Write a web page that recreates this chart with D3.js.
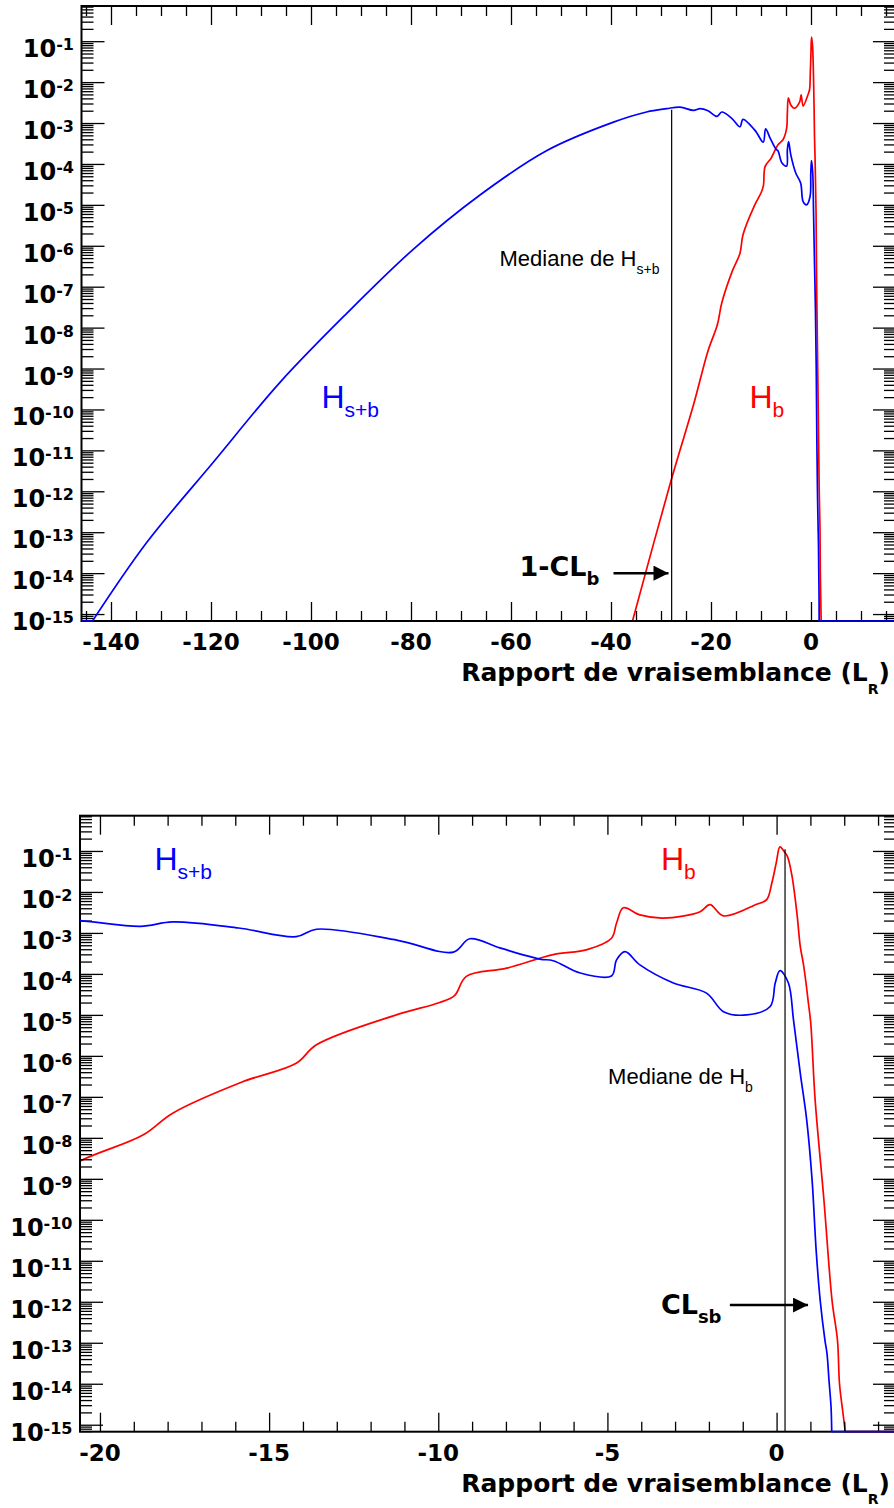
<!DOCTYPE html>
<html><head><meta charset="utf-8">
<script src="https://cdn.jsdelivr.net/npm/d3@7"></script>
<style>
html,body{margin:0;padding:0;background:#fff;}
svg{display:block;}
text{font-family:"Liberation Sans", Arial, Helvetica, sans-serif;}
text.bold{font-family:"DejaVu Sans", "Liberation Sans", Arial, sans-serif;font-weight:bold;}
</style></head><body>
<svg id="chart" width="894" height="1508"></svg>
<script>
// ---------------- DATA ----------------
// H_{s+b} (blue): likelihood-ratio value and probability (0 = below the plotted range)
const hsbX = [-146, -143.7, -132.9, -119.5, -106.2, -92.9, -79.5, -66.2, -52.9, -39.5, -32.9, -28.9, -26.2, -23.5, -22.2,
  -20.6, -18.8, -17.85, -15.9, -14.2, -13.6, -11.2, -9.55, -9.07, -8.18, -7.0, -6.6, -5.8, -4.88, -4.73, -4.48, -4.04,
  -3.05, -2.07, -1.57, -0.88, -0.19, -0.04, 0.10, 0.35, 0.50, 0.70, 0.89, 1.05, 1.17, 1.29, 1.43, 1.49, 1.55, 1.61, 1.63, 17];
const hsbY = [0, 0, 5.5e-14, 5.2e-12, 4.6e-10, 2.2e-8, 8.3e-7, 1.74e-5, 2.1e-4, 1.05e-3, 1.86e-3, 2.24e-3, 2.45e-3, 2.04e-3, 2.24e-3,
  2.0e-3, 1.45e-3, 1.86e-3, 1.32e-3, 8.1e-4, 1.23e-3, 6.6e-4, 3.4e-4, 7.2e-4, 4.3e-4, 2.3e-4, 2.1e-4, 1.05e-4, 8.9e-5, 2.2e-4, 3.5e-4, 1.66e-4,
  6.0e-5, 3.4e-5, 1.2e-5, 1.0e-5, 1.6e-5, 6.0e-5, 1.2e-4, 6.0e-5, 7.6e-6, 3.8e-7, 2.75e-8, 9.3e-10, 1.8e-11, 1.07e-12, 1.15e-13, 5.5e-14, 1.2e-14, 2.7e-15, 0, 0];

// H_b (red)
const hbX = [-146, -35.7, -27.9, -23.5, -20.6, -18.73, -17.85, -15.8, -14.2, -13.6, -11.24, -9.96, -9.52, -9.17, -7.98, -6.6, -5.6,
  -4.88, -4.73, -4.53, -4.04, -3.35, -2.26, -1.97, -1.57, -0.59, -0.29, -0.14, -0.01, 0.10, 0.22, 0.32, 0.45, 0.60, 0.70, 0.79,
  0.87, 0.94, 1.01, 1.14, 1.40, 1.64, 1.80, 1.86, 1.96, 2.03, 17];
const hbY = [0, 0, 2.0e-12, 1.3e-10, 2.7e-9, 1.17e-8, 4.0e-8, 2.3e-7, 6.6e-7, 1.86e-6, 1.0e-5, 2.0e-5, 2.95e-5, 8.7e-5, 1.38e-4, 2.95e-4, 3.9e-4,
  7.4e-4, 1.74e-3, 4.1e-3, 2.75e-3, 2.3e-3, 3.3e-3, 4.9e-3, 2.6e-3, 5.0e-3, 6.5e-3, 1.66e-2, 5.1e-2, 0.126, 9.8e-2, 7.4e-2, 2.6e-2, 3.1e-3, 4.7e-4, 1.8e-4,
  6.0e-5, 1.95e-5, 6.3e-6, 8.3e-8, 3.0e-10, 1.07e-12, 1.15e-13, 1.0e-14, 2.0e-15, 0, 0];

// medians
const medianSB = [-27.87, 2.1e-3];   // median of H_{s+b}: x, height of the line
const medianB = [0.25, 0.11];        // median of H_b

// axis ticks
const yTickExponents = [-1, -2, -3, -4, -5, -6, -7, -8, -9, -10, -11, -12, -13, -14, -15];
const topXTickLabels = [-140, -120, -100, -80, -60, -40, -20, 0];
const bottomXTickLabels = [-20, -15, -10, -5, 0];
const axisTitle = "Rapport de vraisemblance (L";
const axisTitleSub = "R";

// ---------------- LAYOUT ----------------
const yDomain = [Math.pow(10, -15.17), Math.pow(10, -0.14)];
const svg = d3.select("#chart");

const panels = [
  { left: 81.5, right: 896, top: 6, bottom: 621, xDomain: [-145.9, 17.0], major: 20, minor: 5, labels: topXTickLabels,
    median: medianSB, curve: d3.curveCatmullRom.alpha(0.5),
    texts: [
      { x: -62.3, y: 3.2e-7, main: "Mediane de H", sub: "s+b", size: 22, subSize: 14, dy: 8, color: "#000", bold: false },
      { x: -97.9, y: 1.1e-10, main: "H", sub: "s+b", size: 32, subSize: 21, dy: 9, color: "#0000ff", bold: false },
      { x: -12.3, y: 1.1e-10, main: "H", sub: "b", size: 32, subSize: 21, dy: 9, color: "#ff0000", bold: false },
      { x: -58.3, y: 8.5e-15, main: "1-CL", sub: "b", size: 27, subSize: 18, dy: 9, color: "#000", bold: true }
    ],
    arrow: { x0: -39.5, x1: -28.5, y: 1.0e-14 }
  },
  { left: 80, right: 896, top: 815.7, bottom: 1431.7, xDomain: [-20.59, 3.53], major: 5, minor: 1, labels: bottomXTickLabels,
    median: medianB, curve: d3.curveCatmullRom.alpha(0.5),
    texts: [
      { x: -18.39, y: 3.5e-2, main: "H", sub: "s+b", size: 32, subSize: 21, dy: 9, color: "#0000ff", bold: false },
      { x: -3.42, y: 3.5e-2, main: "H", sub: "b", size: 32, subSize: 21, dy: 9, color: "#ff0000", bold: false },
      { x: -4.98, y: 2.07e-7, main: "Mediane de H", sub: "b", size: 22, subSize: 14, dy: 8, color: "#000", bold: false },
      { x: -3.42, y: 5.0e-13, main: "CL", sub: "sb", size: 27, subSize: 18, dy: 9, color: "#000", bold: true }
    ],
    arrow: { x0: -1.38, x1: 0.93, y: 8.3e-13 }
  }
];

const hsb = hsbX.map((v, i) => [v, hsbY[i]]);
const hb = hbX.map((v, i) => [v, hbY[i]]);

const defs = svg.append("defs");
defs.append("marker")
  .attr("id", "arrowHead").attr("viewBox", "0 0 10 10").attr("refX", 10).attr("refY", 5)
  .attr("markerUnits", "userSpaceOnUse").attr("markerWidth", 18).attr("markerHeight", 15).attr("orient", "auto")
  .append("path").attr("d", "M0,0 L10,5 L0,10 Z").attr("fill", "#000");

// points that belong to the visible (above-floor) part of a curve
const onCurve = (d, i, arr) => d[1] > 0 || (i > 0 && arr[i - 1][1] > 0) || (i < arr.length - 1 && arr[i + 1][1] > 0);
const onFloor = (d) => d[1] === 0;

panels.forEach((p, pi) => {
  const g = svg.append("g");
  const x = d3.scaleLinear().domain(p.xDomain).range([p.left, p.right]);
  const y = d3.scaleLog().domain(yDomain).range([p.bottom, p.top]);
  const yMin = yDomain[0];

  const clipId = "clip" + pi;
  defs.append("clipPath").attr("id", clipId)
    .append("rect").attr("x", p.left).attr("y", p.top).attr("width", p.right - p.left).attr("height", p.bottom - p.top + 1);

  const curveLine = d3.line()
    .defined(onCurve)
    .x(d => x(d[0]))
    .y(d => y(Math.max(d[1], yMin)))
    .curve(p.curve);
  const floorLine = d3.line()
    .defined(onFloor)
    .x(d => x(d[0]))
    .y(() => y(yMin));

  function drawSeries(data, color) {
    [floorLine, curveLine].forEach(gen => {
      g.append("path").datum(data).attr("d", gen).attr("fill", "none")
        .attr("stroke", color).attr("stroke-width", 1.7).attr("stroke-linejoin", "round")
        .attr("clip-path", `url(#${clipId})`);
    });
  }

  // red curve (under the frame)
  drawSeries(hb, "#ff0000");

  // frame
  g.append("rect").attr("x", p.left).attr("y", p.top).attr("width", p.right - p.left).attr("height", p.bottom - p.top)
    .attr("fill", "none").attr("stroke", "#000").attr("stroke-width", 2);

  // ---- y ticks ----
  const majorY = yTickExponents.map(e => Math.pow(10, e));
  const minorY = [];
  for (let e = -16; e <= 0; e++) for (let k = 2; k <= 9; k++) {
    const v = k * Math.pow(10, e);
    if (v > yDomain[0] && v < yDomain[1]) minorY.push(v);
  }
  g.append("g").attr("transform", `translate(${p.left},0)`)
    .call(d3.axisRight(y).tickValues(majorY).tickSize(23).tickFormat(""));
  g.append("g").attr("transform", `translate(${p.left},0)`)
    .call(d3.axisRight(y).tickValues(minorY).tickSize(12).tickFormat(""));
  g.append("g").attr("transform", `translate(${p.right},0)`)
    .call(d3.axisLeft(y).tickValues(majorY).tickSize(23).tickFormat(""));
  g.append("g").attr("transform", `translate(${p.right},0)`)
    .call(d3.axisLeft(y).tickValues(minorY).tickSize(12).tickFormat(""));

  // ---- x ticks ----
  const majorX = d3.range(Math.ceil(p.xDomain[0] / p.major) * p.major, p.xDomain[1] + 1e-9, p.major);
  const minorX = d3.range(Math.ceil(p.xDomain[0] / p.minor) * p.minor, p.xDomain[1] + 1e-9, p.minor)
    .filter(v => Math.abs(v / p.major - Math.round(v / p.major)) > 1e-6);
  g.append("g").attr("transform", `translate(0,${p.bottom})`)
    .call(d3.axisTop(x).tickValues(majorX).tickSize(19).tickFormat(""));
  g.append("g").attr("transform", `translate(0,${p.bottom})`)
    .call(d3.axisTop(x).tickValues(minorX).tickSize(10).tickFormat(""));
  g.append("g").attr("transform", `translate(0,${p.top})`)
    .call(d3.axisBottom(x).tickValues(majorX).tickSize(19).tickFormat(""));
  g.append("g").attr("transform", `translate(0,${p.top})`)
    .call(d3.axisBottom(x).tickValues(minorX).tickSize(10).tickFormat(""));
  g.selectAll(".domain").remove();
  g.selectAll(".tick line").attr("stroke", "#000").attr("stroke-width", 1.3);

  // blue curve
  drawSeries(hsb, "#0000ff");

  // median line
  g.append("line").attr("x1", x(p.median[0])).attr("x2", x(p.median[0]))
    .attr("y1", y(yMin)).attr("y2", y(p.median[1]))
    .attr("stroke", "#000").attr("stroke-width", 1.2);

  // y tick labels
  yTickExponents.forEach(e => {
    const t = g.append("text").attr("class", "bold").attr("x", p.left - 7.5).attr("y", y(Math.pow(10, e)) + 16)
      .attr("text-anchor", "end").attr("fill", "#000");
    t.append("tspan").attr("font-size", 24).text("10");
    t.append("tspan").attr("font-size", 16).attr("dy", -7).text(String(e));
  });

  // x tick labels
  p.labels.forEach(v => {
    g.append("text").attr("class", "bold").attr("x", x(v)).attr("y", p.bottom + 29).attr("text-anchor", "middle")
      .attr("font-size", 23).text(v);
  });

  // axis title
  const title = g.append("text").attr("class", "bold").attr("x", 890).attr("y", p.bottom + 60).attr("text-anchor", "end")
    .attr("font-size", 25);
  title.append("tspan").text(axisTitle);
  title.append("tspan").attr("font-size", 14).attr("dy", 12.5).text(axisTitleSub);
  title.append("tspan").attr("dy", -12.5).text(")");

  // annotations
  p.texts.forEach(a => {
    const t = g.append("text").attr("x", x(a.x)).attr("y", y(a.y)).attr("fill", a.color);
    if (a.bold) t.attr("class", "bold");
    t.append("tspan").attr("font-size", a.size).text(a.main);
    t.append("tspan").attr("font-size", a.subSize).attr("dy", a.dy).text(a.sub);
  });

  // arrow
  g.append("line").attr("x1", x(p.arrow.x0)).attr("x2", x(p.arrow.x1))
    .attr("y1", y(p.arrow.y)).attr("y2", y(p.arrow.y))
    .attr("stroke", "#000").attr("stroke-width", 2.5).attr("marker-end", "url(#arrowHead)");
});
</script>
</body></html>
